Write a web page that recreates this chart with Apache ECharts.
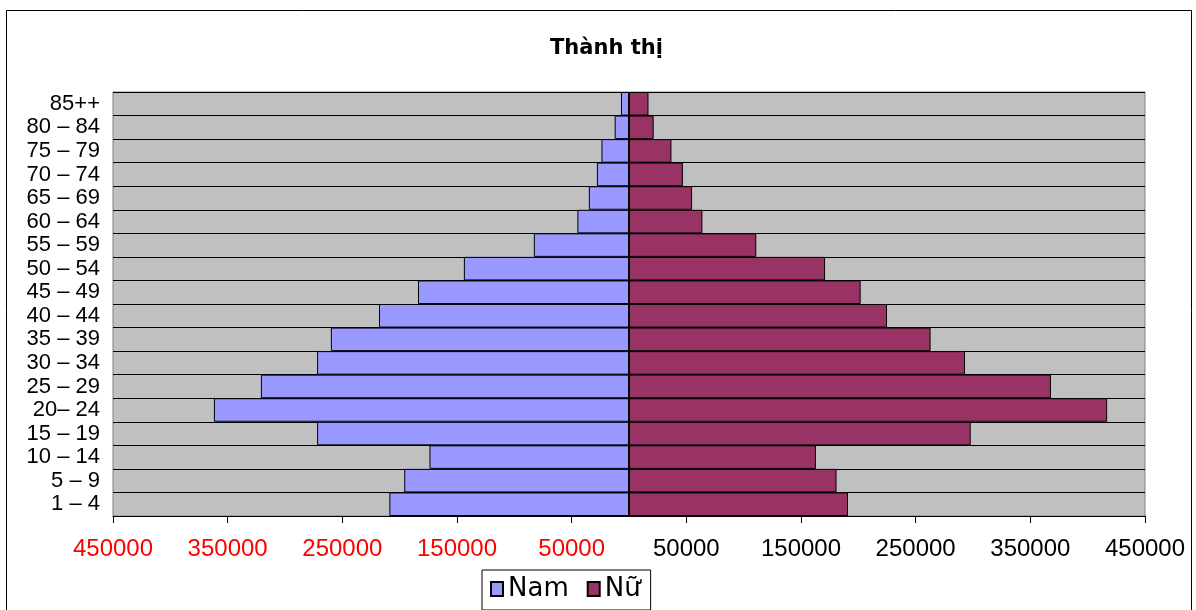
<!DOCTYPE html>
<html>
<head>
<meta charset="utf-8">
<script src="https://cdn.jsdelivr.net/npm/echarts@6/dist/echarts.min.js"></script>
<style>
html,body{margin:0;padding:0;background:#fff;}
#chart{width:1196px;height:610px;}
</style>
</head>
<body>
<div id="chart"></div>
<script>
// Categories bottom-to-top
const categories = ['1 – 4','5 – 9','10 – 14','15 – 19','20– 24','25 – 29','30 – 34','35 – 39','40 – 44','45 – 49','50 – 54','55 – 59','60 – 64','65 – 69','70 – 74','75 – 79','80 – 84','85++'];
// Male (Nam) values, plotted to the left
const male = [209000,196000,174000,272000,362000,321000,272000,260000,218000,184000,144000,83000,45000,35000,28000,24000,12500,7000];
// Female (Nữ) values, plotted to the right
const female = [191000,181000,163000,298000,417000,368000,293000,263000,225000,202000,171000,111000,64000,55000,47000,37000,21500,17000];
// Tick positions on the x axis
const tickValues = [-450000,-350000,-250000,-150000,-50000,50000,150000,250000,350000,450000];
const seriesNames = ['Nam','Nữ'];
const titleText = 'Thành thị';

const chart = echarts.init(document.getElementById('chart'), null, {renderer:'canvas'});
const option = {
  animation: false,
  backgroundColor: '#ffffff',
  title: {
    text: titleText,
    left: 545, top: 33,
    textStyle: {fontFamily: 'DejaVu Sans', fontWeight: 'bold', fontSize: 21, color: '#000'}
  },
  legend: {
    data: seriesNames,
    icon: 'rect',
    left: 482, top: 570,
    orient: 'horizontal',
    itemWidth: 12, itemHeight: 14, itemGap: 18,
    padding: [6, 10, 8, 8],
    borderColor: '#000', borderWidth: 1,
    textStyle: {fontFamily: 'DejaVu Sans', fontSize: 26, color: '#000'}
  },
  graphic: [{
    type: 'rect', silent: true, z: 100,
    shape: {x: 6.5, y: 10.5, width: 1185, height: 640},
    style: {fill: null, stroke: '#000', lineWidth: 1}
  }],
  grid: {
    left: 113, right: 51, top: 92, bottom: 94,
    show: true, backgroundColor: '#C0C0C0', borderColor: '#808080', borderWidth: 1
  },
  xAxis: {
    type: 'value',
    min: -450000, max: 450000, interval: 50000,
    axisLine: {show: true, onZero: false, lineStyle: {color: '#000', width: 1}},
    axisTick: {show: true, length: 7, customValues: tickValues, lineStyle: {color: '#000'}},
    splitLine: {show: false},
    axisLabel: {
      customValues: tickValues,
      margin: 21,
      fontFamily: 'Liberation Sans', fontSize: 24,
      formatter: v => String(Math.abs(v)),
      color: v => (v < 0 ? '#FF0000' : '#000000')
    }
  },
  yAxis: {
    type: 'category',
    data: categories,
    axisLine: {show: false, onZero: false},
    axisTick: {show: false},
    splitLine: {show: true, interval: 0, lineStyle: {color: '#000', width: 1}},
    axisLabel: {interval: 0, hideOverlap: false, fontFamily: 'Liberation Sans', fontSize: 22, color: '#000', margin: 13}
  },
  series: [
    {
      name: seriesNames[0], type: 'bar', stack: 'pyr',
      barCategoryGap: 0,
      data: male.map(v => -v),
      itemStyle: {color: '#9999FF', borderColor: '#000', borderWidth: 1},
      markLine: {
        silent: true, symbol: 'none', label: {show: false},
        lineStyle: {color: '#000', width: 2, type: 'solid'},
        data: [{xAxis: 0}]
      }
    },
    {
      name: seriesNames[1], type: 'bar', stack: 'pyr',
      barCategoryGap: 0,
      data: female,
      itemStyle: {color: '#993366', borderColor: '#000', borderWidth: 1}
    }
  ]
};
chart.setOption(option);
</script>
</body>
</html>
